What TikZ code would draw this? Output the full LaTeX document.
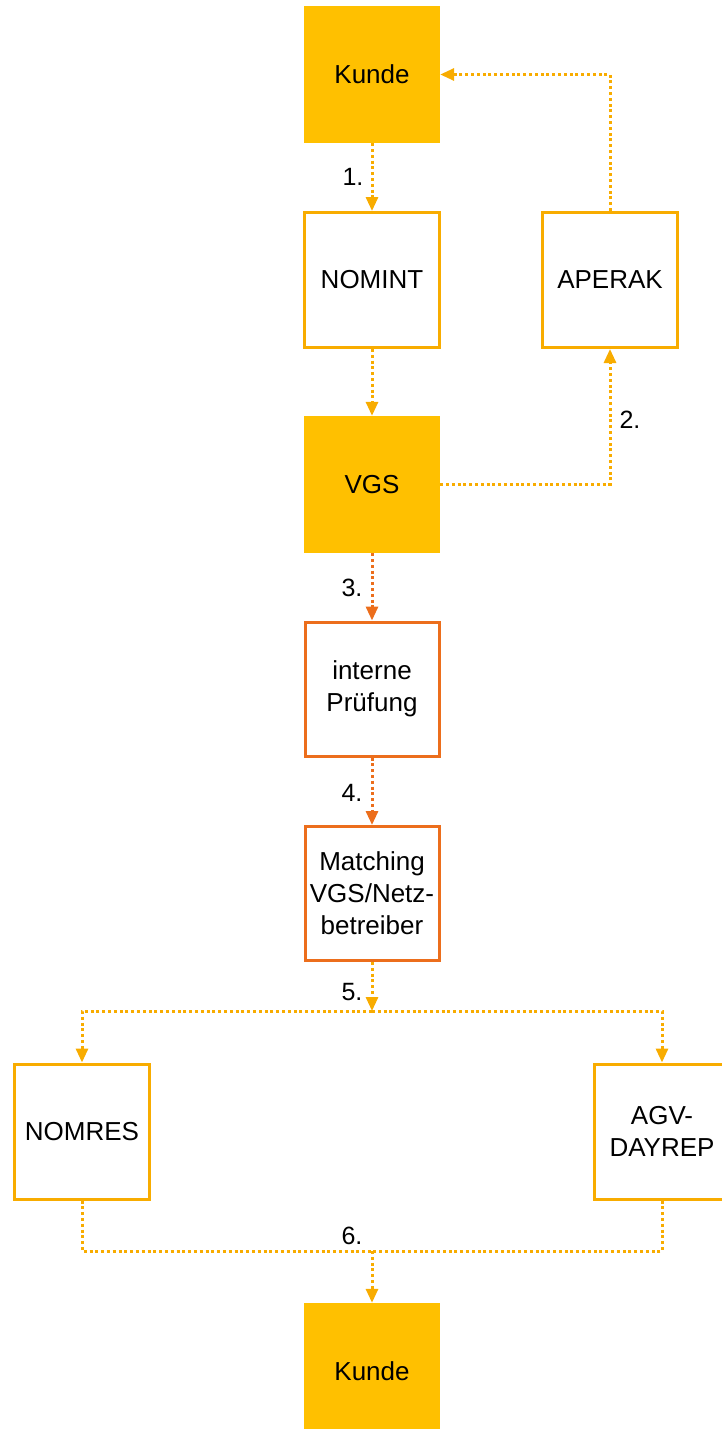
\documentclass[tikz,border=0pt]{standalone}
\usepackage{fontspec}
\setmainfont{Liberation Sans}
\usetikzlibrary{arrows.meta}
\definecolor{kfill}{HTML}{FFC000}
\definecolor{ylw}{HTML}{F8AC00}
\definecolor{org}{HTML}{EC6E1C}
\tikzset{
  txt/.style={font=\fontsize{26}{32}\selectfont, text=black, align=center},
  filledbox/.style={txt, fill=kfill, draw=none, minimum width=136pt, minimum height=137pt, inner sep=0pt},
  ybox/.style={txt, draw=ylw, line width=3pt, fill=white, minimum width=135pt, minimum height=135pt, inner sep=0pt},
  obox/.style={txt, draw=org, line width=3pt, fill=white, minimum width=134pt, minimum height=134pt, inner sep=0pt},
  conn/.style={line width=3pt, dash pattern=on 3pt off 2.8pt},
  yconn/.style={conn, draw=ylw},
  oconn/.style={conn, draw=org},
  tip/.style={-{Triangle[length=14pt,width=12pt]}},
  lbl/.style={font=\fontsize{25}{28}\selectfont, text=black, inner sep=0pt}
}
\begin{document}
\begin{tikzpicture}[x=1pt,y=-1pt]
\useasboundingbox (0,0) rectangle (721,1429);
\node[filledbox] (kunde1) at (372,74.5) {Kunde};
\node[ybox] (nomint) at (372,280) {NOMINT};
\node[ybox] (aperak) at (610,280) {APERAK};
\node[filledbox] (vgs) at (372,484.5) {VGS};
\node[obox] (pruef) at (372,689) {interne\\Prüfung};
\node[obox] (match) at (372,893.5) {Matching\\VGS/Netz-\\betreiber};
\node[ybox] (nomres) at (82,1131.5) {NOMRES};
\node[ybox] (agv) at (662,1131.5) {AGV-\\DAYREP};
\node[filledbox] (kunde2) at (372,1371.5) {Kunde};

\coordinate (j5) at (372,1011);
\coordinate (j6) at (372,1251);

\draw[yconn, tip] (kunde1.south) -- (nomint.north);
\draw[yconn, tip] (nomint.south) -- (vgs.north);
\draw[yconn, tip] (vgs.east) -| (aperak.south);
\draw[yconn, tip] (aperak.north) |- (kunde1.east);
\draw[oconn, tip] (vgs.south) -- (pruef.north);
\draw[oconn, tip] (pruef.south) -- (match.north);
\draw[yconn, tip] (match.south) -- (j5);
\draw[yconn, tip] (j5) -| (nomres.north);
\draw[yconn, tip] (j5) -| (agv.north);
\draw[yconn] (nomres.south) |- (j6);
\draw[yconn] (agv.south) |- (j6);
\draw[yconn, tip] (j6) -- (kunde2.north);

\node[lbl] (l1) at (353,177) {1.};
\node[lbl] (l2) at (630,420) {2.};
\node[lbl] (l3) at (352,588) {3.};
\node[lbl] (l4) at (352,793) {4.};
\node[lbl] (l5) at (352,992) {5.};
\node[lbl] (l6) at (352,1236) {6.};
\end{tikzpicture}
\end{document}
